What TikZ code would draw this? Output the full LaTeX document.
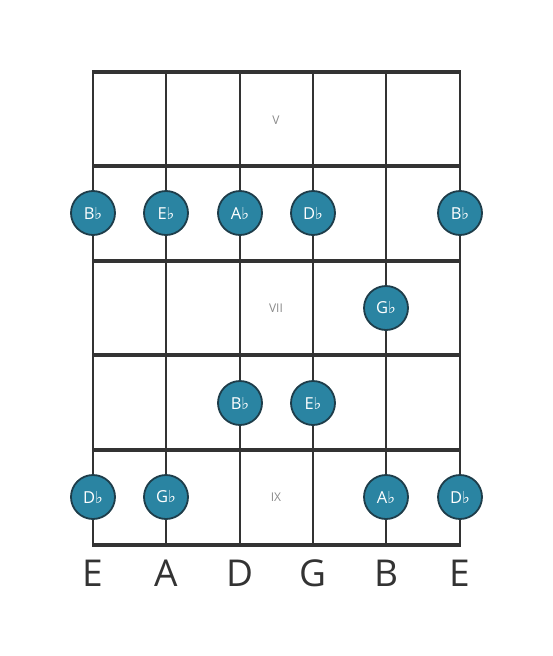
\documentclass[tikz,border=0pt]{standalone}
\usepackage{fontspec}
\setmainfont{Open Sans}
\newfontfamily\symfont{DejaVu Sans}
\newcommand{\flt}{{\symfont\char"266D}}
\definecolor{dotblue}{HTML}{2A84A2}
\definecolor{dotrim}{HTML}{1E3D4A}
\definecolor{wire}{HTML}{333333}
\definecolor{numgray}{HTML}{8A8A8A}

\tikzset{
    fret/.style={draw=wire, line width=4.5pt},
    string/.style={draw=wire, line width=2pt},
    notedot/.style={circle, draw=dotrim, line width=1.8pt, fill=dotblue,
        minimum size=44pt, inner sep=0pt, text=white, font=\fontsize{16.5}{17}\selectfont},
    posnum/.style={text=numgray, font=\fontsize{12}{13}\selectfont},
    tuning/.style={text=wire, font=\fontsize{37}{40}\selectfont}
}

\begin{document}
\begin{tikzpicture}[x=1pt, y=-1pt]
    \useasboundingbox (0,0) rectangle (553,656);

    % Strings
    \foreach \n/\x/\lab in {1/93/E, 2/166/A, 3/240/D, 4/313/G, 5/386/B, 6/460/E} {
        \coordinate (s\n top) at (\x,72);
        \coordinate (s\n bot) at (\x,545);
        \draw[string] (s\n top) -- (s\n bot);
        \node[tuning] (t\n) at (\x,573) {\lab};
    }

    % Frets
    \foreach \f/\y in {5/72, 6/166, 7/261, 8/355, 9/450, 10/545} {
        \coordinate (f\f l) at (92,\y);
        \coordinate (f\f r) at (461,\y);
        \draw[fret] (f\f l) -- (f\f r);
    }

    % Position numbers
    \node[posnum] (pV) at (276,120) {V};
    \node[posnum] (pVII) at (276,308) {VII};
    \node[posnum] (pIX) at (276,497) {IX};

    % Notes, fret 6
    \node[notedot] (n61) at (93,213) {B\flt};
    \node[notedot] (n62) at (166,213) {E\flt};
    \node[notedot] (n63) at (240,213) {A\flt};
    \node[notedot] (n64) at (313,213) {D\flt};
    \node[notedot] (n66) at (460,213) {B\flt};

    % Notes, fret 7
    \node[notedot] (n75) at (386,308) {G\flt};

    % Notes, fret 8
    \node[notedot] (n83) at (240,403) {B\flt};
    \node[notedot] (n84) at (313,403) {E\flt};

    % Notes, fret 9
    \node[notedot] (n91) at (93,497) {D\flt};
    \node[notedot] (n92) at (166,497) {G\flt};
    \node[notedot] (n95) at (386,497) {A\flt};
    \node[notedot] (n96) at (460,497) {D\flt};

\end{tikzpicture}
\end{document}
